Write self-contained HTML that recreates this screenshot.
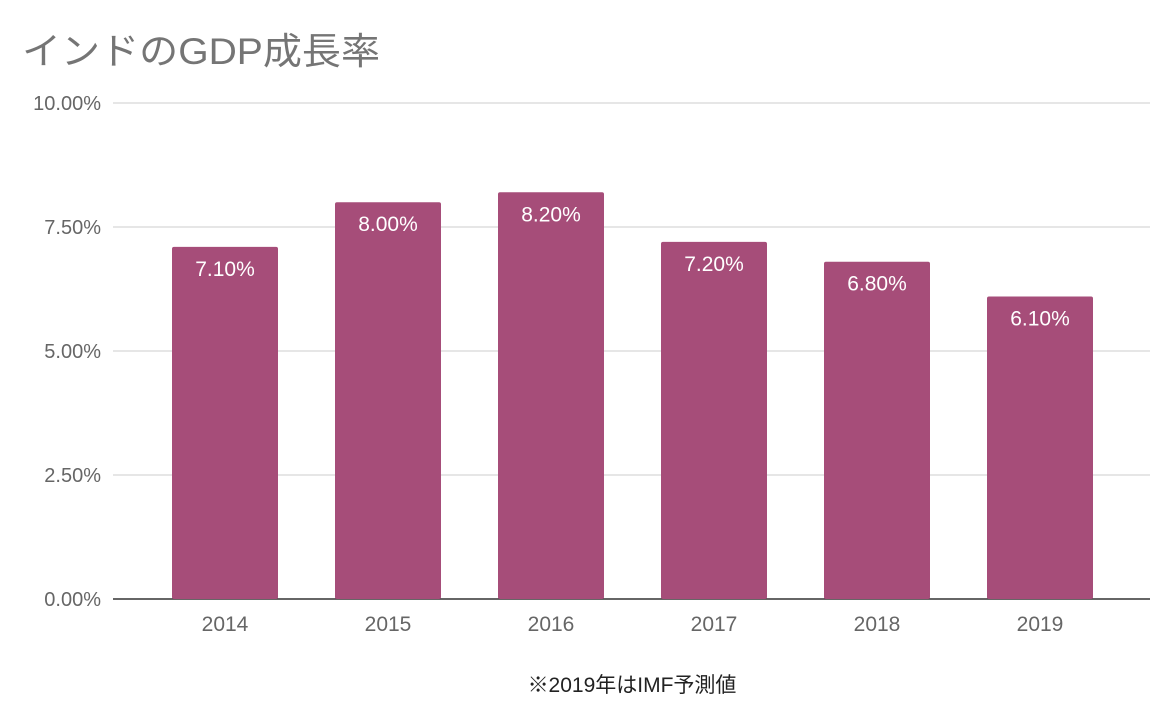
<!DOCTYPE html>
<html><head><meta charset="utf-8"><style>
html,body{margin:0;padding:0;background:#fff;}
svg{display:block;font-family:"Liberation Sans","Noto Sans CJK JP",sans-serif;}
</style></head><body>
<svg id="chart" width="1172" height="714" viewBox="0 0 1172 714">
<text x="22" y="64" font-size="37" fill="#757575" textLength="358" lengthAdjust="spacingAndGlyphs">インドのGDP成長率</text>
<g id="grid"></g><g id="bars"></g><g id="labels"></g>
<text x="632" y="692" font-size="21" fill="#222" text-anchor="middle">※2019年はIMF予測値</text>
</svg>
<script>
const categories=["2014","2015","2016","2017","2018","2019"];
const values=[7.1,8.0,8.2,7.2,6.8,6.1];
const valueLabels=["7.10%","8.00%","8.20%","7.20%","6.80%","6.10%"];
const ticks=[0,2.5,5,7.5,10];
const tickLabels=["0.00%","2.50%","5.00%","7.50%","10.00%"];
const NS="http://www.w3.org/2000/svg";
const y0=599,y1=103,vmax=10,left=113,right=1150,firstC=225,step=163,bw=106;
const y=v=>y0-(v/vmax)*(y0-y1);
const x=i=>firstC+i*step;
function mk(t,a,p){const e=document.createElementNS(NS,t);for(const k in a)e.setAttribute(k,a[k]);p.appendChild(e);return e;}
const grid=document.getElementById('grid'),bars=document.getElementById('bars'),labels=document.getElementById('labels');
ticks.forEach((t,i)=>{
 const l=mk('line',{x1:left,x2:right,y1:y(t),y2:y(t),stroke:t===0?'#333':'#ccc','stroke-width':t===0?1.5:1},grid);
 
 
 const tx=mk('text',{x:101,y:y(t)+7,'font-size':20,fill:'#666','text-anchor':'end'},grid);
 tx.textContent=tickLabels[i];
 
 
});
categories.forEach((c,i)=>{
 const r=mk('rect',{x:x(i)-bw/2,y:y(values[i]),width:bw,height:y0-y(values[i]),fill:'#a64d79',rx:2},bars);
 
 
 const vl=mk('text',{x:x(i),y:y(values[i])+29,'font-size':21,fill:'#fff','text-anchor':'middle'},labels);
 vl.textContent=valueLabels[i];
 
 
 const cl=mk('text',{x:x(i),y:631,'font-size':21,fill:'#666','text-anchor':'middle'},labels);
 cl.textContent=c;
 
 
});
</script>
</body></html>
